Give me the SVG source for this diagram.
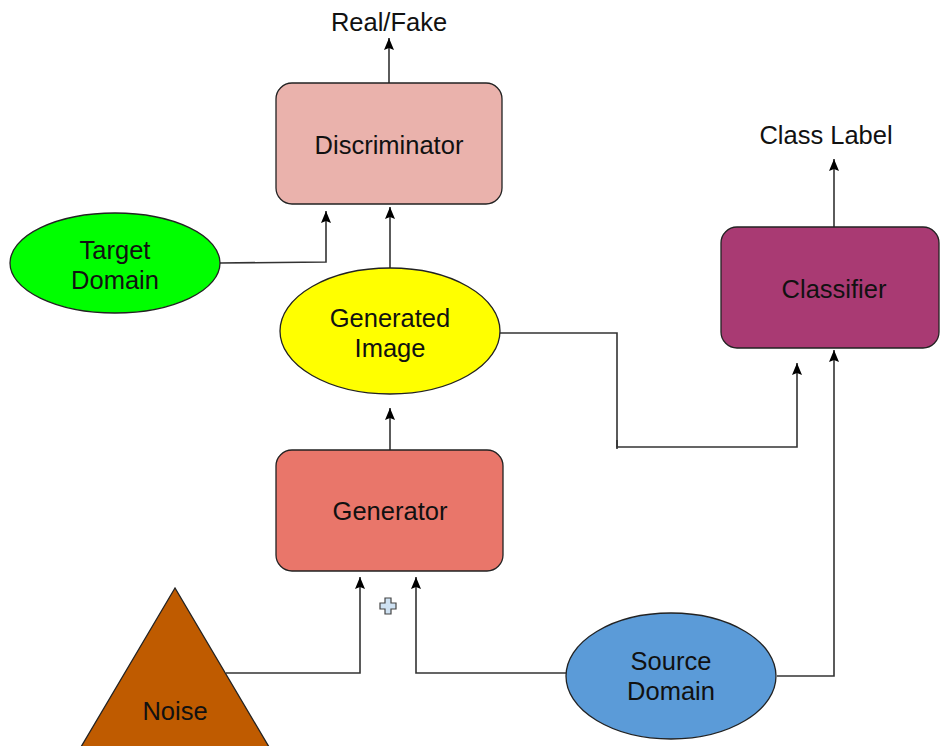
<svg xmlns="http://www.w3.org/2000/svg" width="940" height="746" viewBox="0 0 940 746">
<defs>
<marker id="arr" markerWidth="13" markerHeight="10" refX="12" refY="5" orient="auto" markerUnits="userSpaceOnUse" viewBox="0 0 13 10">
<path d="M0,0 L12,5 L0,10 L2,5 Z" fill="#000"/>
</marker>
<style>
text{font-family:"Liberation Sans",Arial,sans-serif;font-size:25.5px;fill:#111;text-anchor:middle}
.shape{stroke:#222;stroke-width:1.3}
.conn{fill:none;stroke:#333;stroke-width:1.6}
.arrow{marker-end:url(#arr)}
</style>
</defs>
<rect width="940" height="746" fill="#fff"/>
<g id="connectors">
<path class="conn arrow" d="M389,83 L389,38"/>
<path class="conn arrow" d="M220,263 L326,262 L326,211"/>
<path class="conn arrow" d="M390,268 L390,207"/>
<path class="conn arrow" d="M390,450 L390,408"/>
<path class="conn" d="M617,440 L617,449"/>
<path class="conn arrow" d="M500,333 L617,333 L617,447 L797,447 L797,363"/>
<path class="conn arrow" d="M834,227 L834,159"/>
<path class="conn arrow" d="M777,676 L834,676 L834,350"/>
<path class="conn arrow" d="M566,673 L416,673 L416,577"/>
<path class="conn arrow" d="M226,673 L360,673 L360,577"/>
</g>
<g id="realfake"><text x="389" y="31">Real/Fake</text></g>
<g id="discriminator">
<rect class="shape" x="276" y="83" width="226" height="121" rx="16" fill="#eab2ac"/>
<text x="389" y="154">Discriminator</text>
</g>
<g id="target">
<ellipse class="shape" cx="115" cy="263" rx="105" ry="50" fill="#00ff00"/>
<text x="115" y="259">Target</text>
<text x="115" y="289">Domain</text>
</g>
<g id="generated">
<ellipse class="shape" cx="390" cy="331" rx="110" ry="63" fill="#ffff00"/>
<text x="390" y="327">Generated</text>
<text x="390" y="357">Image</text>
</g>
<g id="generator">
<rect class="shape" x="276" y="450" width="227" height="121" rx="16" fill="#e9766a"/>
<text x="390" y="520">Generator</text>
</g>
<g id="classlabel"><text x="826" y="144">Class Label</text></g>
<g id="classifier">
<rect class="shape" x="721" y="227" width="218" height="121" rx="16" fill="#a93a73"/>
<text x="834" y="298">Classifier</text>
</g>
<g id="source">
<ellipse class="shape" cx="671" cy="676" rx="105" ry="63" fill="#5b9bd8"/>
<text x="671" y="670">Source</text>
<text x="671" y="700">Domain</text>
</g>
<g id="noise">
<polygon class="shape" points="175,588 78,752 272,752" fill="#bf5b00"/>
<text x="175" y="720">Noise</text>
</g>
<g id="plus">
<path d="M385,598 H391 V603 H396 V609 H391 V614 H385 V609 H380 V603 H385 Z" fill="#cfe2f3" stroke="#444" stroke-width="1.2"/>
</g>
</svg>
